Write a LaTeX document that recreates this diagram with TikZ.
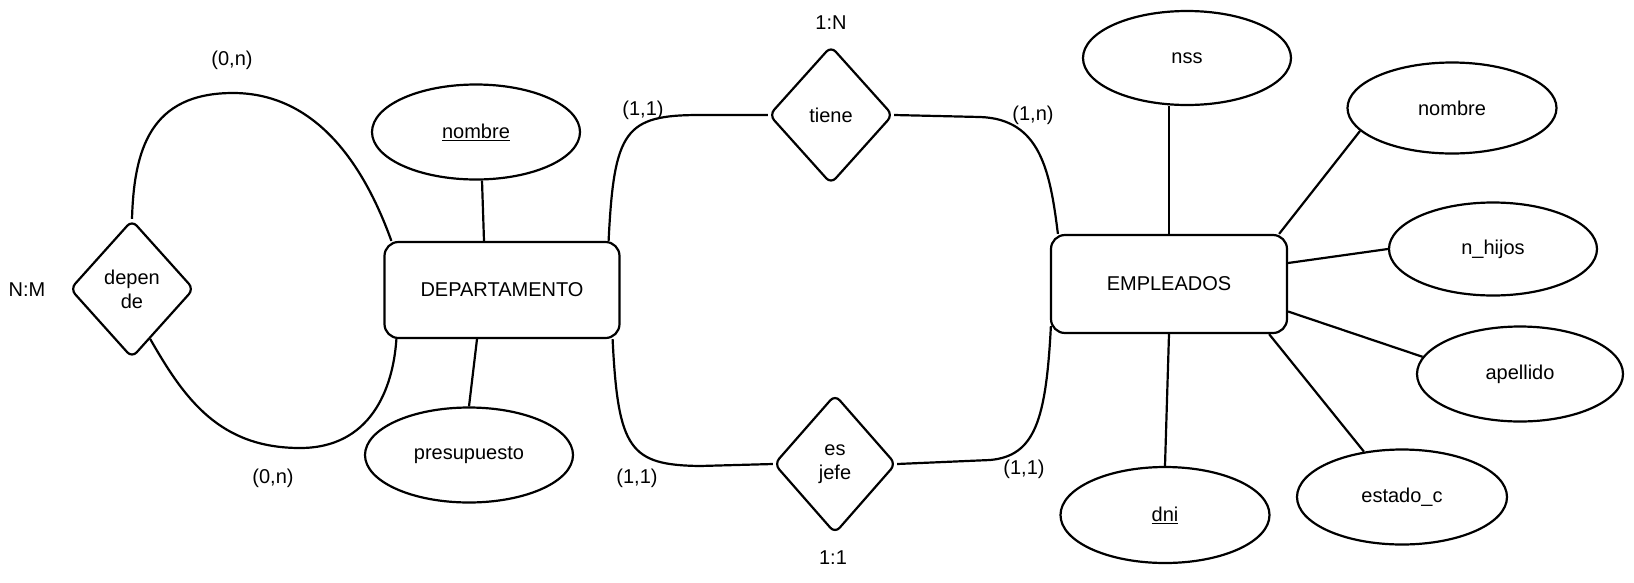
\documentclass[tikz,border=0pt]{standalone}
\usepackage{fontspec}
\setmainfont{Liberation Sans}
\usetikzlibrary{shapes.geometric,positioning,calc}

\begin{document}
\begin{tikzpicture}[
  x=1pt, y=-1pt,
  font=\fontsize{20}{24}\selectfont,
  line width=2.2pt,
  ent/.style={draw, rounded corners=14pt, inner sep=0pt,
              minimum width=235pt, minimum height=96pt},
  rel/.style={draw, diamond, rounded corners=7pt, align=center, inner sep=0pt,
              minimum width=124pt, minimum height=138pt},
  attr/.style={draw, ellipse, inner sep=0pt,
               minimum width=208pt, minimum height=95pt},
  card/.style={inner sep=1pt},
]
\useasboundingbox (0,0) rectangle (1634,582);

\node[ent] (dept) at (502,290) {DEPARTAMENTO};
\node[ent, minimum width=236pt, minimum height=98pt] (emp) at (1169,284) {EMPLEADOS};
\node[rel] (dep) at (132,289) {depen\\de};
\node[rel] (tiene) at (831,115) {tiene};
\node[rel, minimum width=122pt, minimum height=139pt] (jefe) at (835,464) {es\\jefe};

\node[attr] (dnom) at (476,132) {\underline{nombre}};
\node[attr] (pres) at (469,455) {presupuesto};
\node[attr, minimum height=94pt] (nss) at (1187,58) {nss};
\node[attr, minimum width=209pt, minimum height=91pt] (enom) at (1452,108) {nombre};
\node[attr, minimum height=93pt] (nhij) at (1493,249) {n\_hijos};
\node[attr, minimum width=206pt] (apel) at (1520,374) {apellido};
\node[attr, minimum width=210pt] (estc) at (1402,497) {estado\_c};
\node[attr, minimum width=209pt, minimum height=96pt] (dni) at (1165,515) {\underline{dni}};

\node[card] (cnm) at (27,290) {N:M};
\node[card] (cdt) at (232,60) {(0,n)};
\node[card] (cdb) at (273,478) {(0,n)};
\node[card] (c1n) at (831,23) {1:N};
\node[card] (ctl) at (643,110) {(1,1)};
\node[card] (ctr) at (1033,115) {(1,n)};
\node[card] (cjl) at (637,478) {(1,1)};
\node[card] (cjr) at (1024,469) {(1,1)};
\node[card] (c11) at (833,558) {1:1};

\draw (dep.north) .. controls (134,150) and (150,93) .. (233,93)
  .. controls (300,93) and (355,140) .. ([xshift=8pt]dept.north west);
\draw (dep.-70) .. controls (185,400) and (220,448) .. (300,448)
  .. controls (370,448) and (393,390) .. ([xshift=13pt]dept.south west);
\draw ([xshift=-12pt]dept.north east) .. controls (614,130) and (625,115) .. (700,115) -- (tiene.west);
\draw (tiene.east) -- (980,117) .. controls (1040,119) and (1050,170) .. ([xshift=8pt]emp.north west);
\draw ([xshift=-8pt]dept.south east) .. controls (618,450) and (630,465) .. (700,466) -- (jefe.west);
\draw (jefe.east) -- (990,460) .. controls (1035,456) and (1046,420) .. ([xshift=1pt,yshift=8pt]emp.south west);

\draw ([xshift=6pt]dnom.south) -- ([xshift=-18pt]dept.north);
\draw ([xshift=-25pt]dept.south) -- (pres.north);
\draw (nss.south -| emp.north) -- (emp.north);
\draw ([xshift=-9pt]emp.north east) -- (enom.194);
\draw (emp.10) -- (nhij.west);
\draw (emp.-13) -- (apel.170);
\draw ([xshift=-19pt]emp.south east) -- (estc.130);
\draw (emp.south) -- (dni.north);
\end{tikzpicture}
\end{document}
